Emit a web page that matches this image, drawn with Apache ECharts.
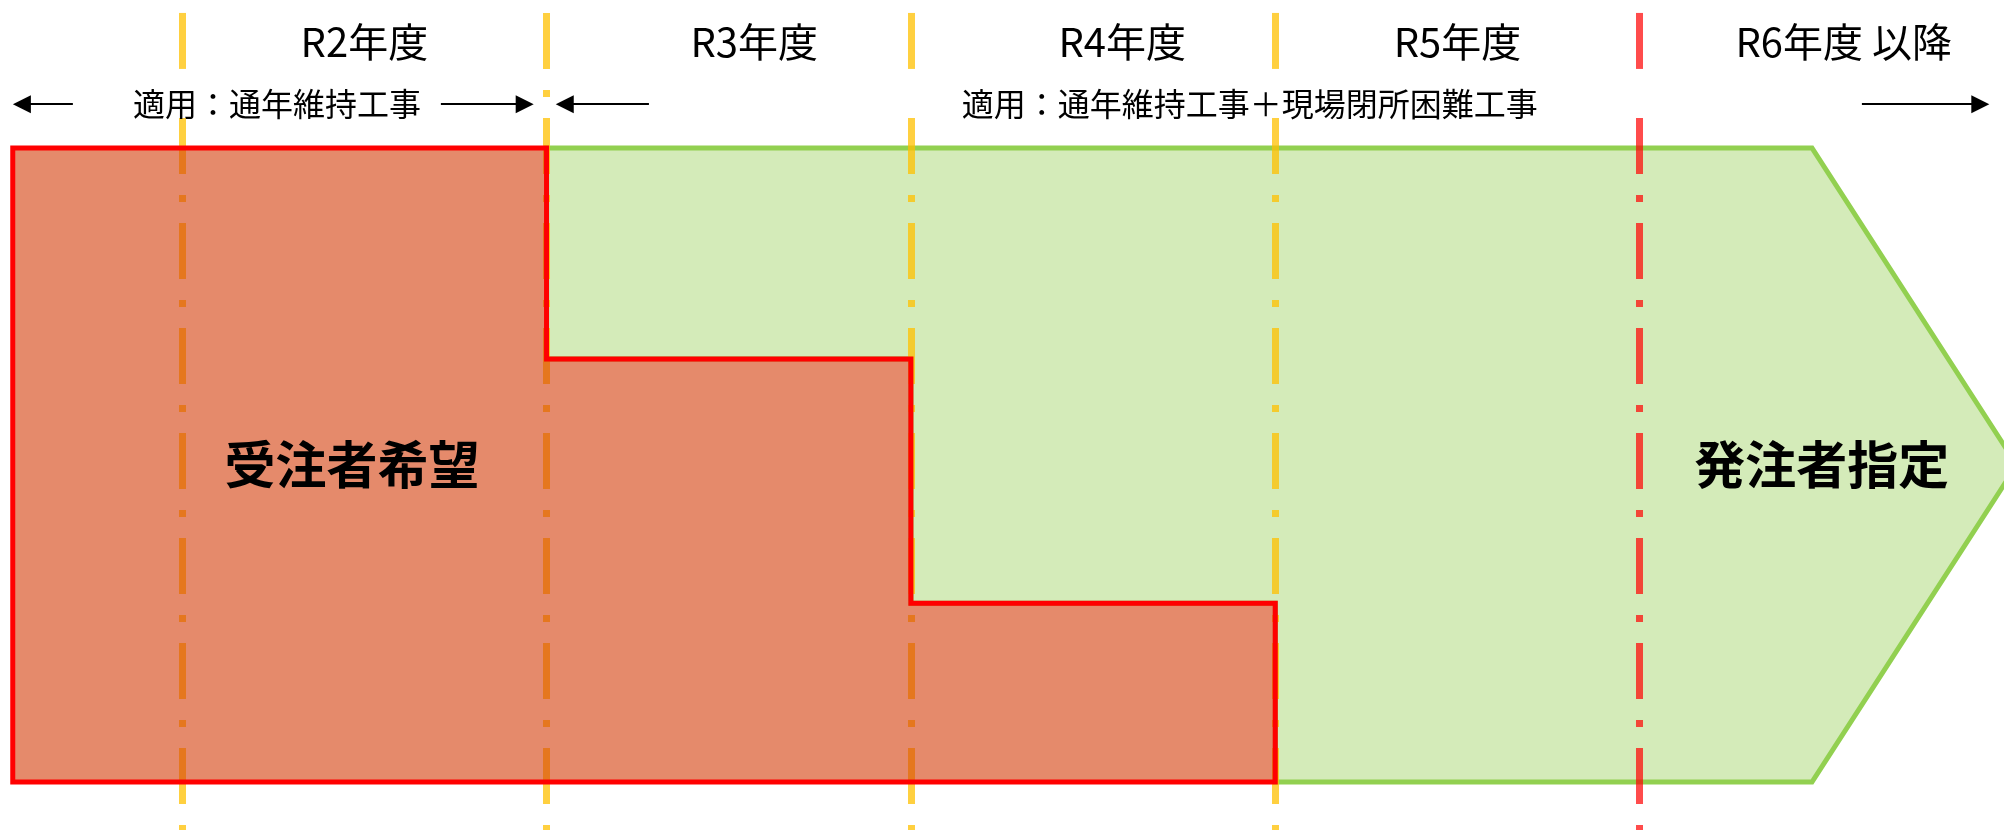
<!DOCTYPE html>
<html>
<head>
<meta charset="utf-8">
<title>受注者希望・発注者指定</title>
<script src="https://cdn.jsdelivr.net/npm/echarts@6/dist/echarts.min.js"></script>
<style>
  html, body { margin: 0; padding: 0; background: #fff; }
  #chart { width: 2004px; height: 830px; }
</style>
</head>
<body>
<div id="chart"></div>
<script>
// 年度（x軸の値 = 各年度の始まり）
const fiscalYears = ['R2年度', 'R3年度', 'R4年度', 'R5年度', 'R6年度 以降'];
const yearStart = [2, 3, 4, 5, 6];
const yearLabelX = [2.50, 3.57, 4.58, 5.50, 6.56];

// 受注者希望の割合（R2, R3, R4 の高さ、1 = 全体）
const wishStart = 1.535;
const wishShare = [1.0, 0.667, 0.282];
const wishEnd = 5;

// 発注者指定の矢印
const arrowHeadStart = 6.473;
const arrowTip = 7.035;

// 適用範囲（矢印の始点, 終点）
const scopeLabels = ['適用：通年維持工事', '適用：通年維持工事＋現場閉所困難工事'];
const scopeLabelX = [2.26, 4.93];
const scopeArrows = [[1.70, 1.560], [2.71, 2.940], [3.281, 3.050], [6.61, 6.935]];

const areaLabels = ['受注者希望', '発注者指定'];
const areaLabelX = [2.466, 6.50];

// レイアウト（y軸の値）
const Y_MIN = -0.0757, Y_MAX = 1.2334;
const Y_YEAR = 1.167, Y_SCOPE = 1.069;
const LINE_TOP = 1.213, GAP_TOP = 1.1246, GAP_BOTTOM = 1.0473;
const FONT = '"Noto Sans CJK JP", "Noto Sans", sans-serif';

// 受注者希望の階段
let wishPts = [[wishStart, 0], [wishStart, wishShare[0]]];
wishShare.forEach((v, i) => {
  const endX = i < wishShare.length - 1 ? yearStart[i + 1] : wishEnd;
  wishPts.push([endX, v]);
  if (i < wishShare.length - 1) wishPts.push([endX, wishShare[i + 1]]);
});
wishPts.push([wishEnd, 0]);

// 発注者指定（階段の右側）
const orderPts = [[yearStart[1], 1], [arrowHeadStart, 1], [arrowTip, 0.5], [arrowHeadStart, 0], [wishEnd, 0]]
  .concat(wishPts.slice(2, -1).reverse());

function polygon (points, style) {
  return function (params, api) {
    return {
      type: 'polygon',
      shape: { points: points.map(p => api.coord(p)) },
      style: style
    };
  };
}

// 年度の区切り線
const dashDot = [56, 21, 7, 21];
let dividers = [];
yearStart.forEach((x, i) => {
  const color = i === yearStart.length - 1 ? 'rgba(255,0,0,0.7)' : 'rgba(255,192,0,0.75)';
  const ls = { color: color, width: 7, type: dashDot, cap: 'butt', opacity: 1 };
  if (i === 1) {
    dividers.push({ coords: [[x, LINE_TOP], [x, Y_MIN]], lineStyle: ls });
  } else {
    dividers.push({ coords: [[x, LINE_TOP], [x, GAP_TOP]], lineStyle: ls });
    dividers.push({ coords: [[x, GAP_BOTTOM], [x, Y_MIN]], lineStyle: ls });
  }
});

function textSeries (xs, y, texts, font) {
  return {
    type: 'scatter',
    z: 6,
    symbolSize: 0,
    itemStyle: { opacity: 1 },
    data: xs.map((x, i) => ({ value: [x, y], name: texts[i] })),
    label: Object.assign({
      show: true,
      position: 'inside',
      formatter: p => p.name,
      color: '#000',
      opacity: 1,
      fontFamily: FONT
    }, font)
  };
}

const chart = echarts.init(document.getElementById('chart'));
chart.setOption({
  animation: false,
  backgroundColor: '#fff',
  grid: { left: 0, right: 0, top: 0, bottom: 0 },
  xAxis: { type: 'value', min: 1.5, max: 7.0, show: false, splitLine: { show: false } },
  yAxis: { type: 'value', min: Y_MIN, max: Y_MAX, show: false, splitLine: { show: false } },
  series: [
    {
      type: 'custom',
      z: 1,
      data: [[3, 0.5]],
      renderItem: polygon(orderPts, { fill: '#d4ebb9', stroke: '#92d050', lineWidth: 5, lineJoin: 'miter' })
    },
    {
      type: 'lines',
      coordinateSystem: 'cartesian2d',
      z: 2,
      symbol: 'none',
      lineStyle: { opacity: 1 },
      data: dividers
    },
    {
      type: 'custom',
      z: 3,
      data: [[3, 0.5]],
      renderItem: polygon(wishPts, { fill: 'rgba(212,60,8,0.6)', stroke: '#ff0000', lineWidth: 5, lineJoin: 'miter' })
    },
    {
      type: 'lines',
      coordinateSystem: 'cartesian2d',
      z: 4,
      symbol: ['none', 'triangle'],
      symbolSize: 18,
      lineStyle: { color: '#000', width: 2, opacity: 1 },
      itemStyle: { color: '#000' },
      data: scopeArrows.map(a => ({ coords: [[a[0], Y_SCOPE], [a[1], Y_SCOPE]] }))
    },
    textSeries(yearLabelX, Y_YEAR, fiscalYears, { fontSize: 40 }),
    textSeries(scopeLabelX, Y_SCOPE, scopeLabels, { fontSize: 32 }),
    textSeries(areaLabelX, 0.5, areaLabels, { fontSize: 51, fontWeight: 'bold' })
  ]
});
</script>
</body>
</html>
